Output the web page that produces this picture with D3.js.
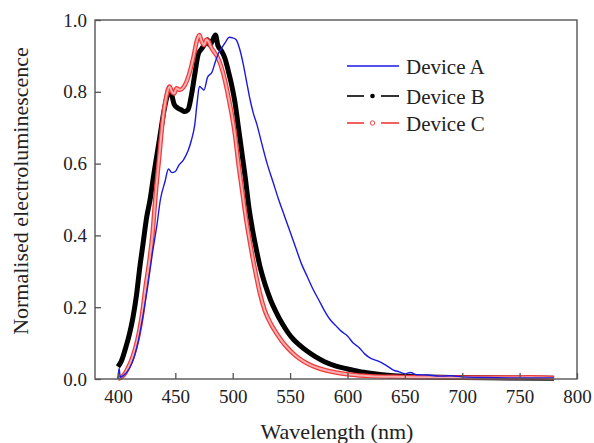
<!DOCTYPE html>
<html><head><meta charset="utf-8">
<script src="https://cdn.jsdelivr.net/npm/d3@7"></script>
<style>body{margin:0;background:#fff}svg{display:block}</style>
</head><body>
<svg id="c" width="594" height="443"></svg>
<script>
const xTicks = [400,450,500,550,600,650,700,750,800];
const yTicks = [0.0,0.2,0.4,0.6,0.8,1.0];
const seriesNames = ["Device A","Device B","Device C"];

const wlA = [400,401,402,405,410,414,418,422,426,430,434,437,441,444,447,450,453,457,461,464,467,469,471,473,475,478,482,485,488,491,494,497,500,503,506,509,512,515,518,521,525,530,535,540,545,550,555,560,565,570,575,580,585,590,595,600,605,610,615,620,625,630,635,640,645,650,655,660,670,680,690,700,720,750,780];
const elA = [0.0,0.03,0.005,0.01,0.03,0.06,0.11,0.18,0.26,0.35,0.43,0.50,0.55,0.585,0.575,0.578,0.595,0.61,0.635,0.665,0.71,0.77,0.815,0.81,0.805,0.84,0.855,0.885,0.91,0.925,0.94,0.952,0.95,0.945,0.92,0.88,0.83,0.78,0.74,0.71,0.66,0.60,0.55,0.50,0.455,0.41,0.365,0.32,0.285,0.25,0.22,0.19,0.165,0.148,0.132,0.12,0.10,0.088,0.07,0.058,0.052,0.045,0.035,0.025,0.02,0.015,0.018,0.012,0.011,0.008,0.009,0.006,0.004,0.003,0.003];

const wlB = [400,403,407,410,413,416,419,422,425,428,431,434,437,440,443,445,447,449,452,455,458,461,464,467,470,473,476,478,480,482,485,487,490,493,496,499,502,505,508,511,514,517,520,524,528,533,538,543,548,553,558,565,572,580,590,600,610,620,630,640,660,700,740,780];
const elB = [0.034,0.05,0.09,0.125,0.17,0.23,0.31,0.38,0.45,0.50,0.565,0.625,0.685,0.745,0.79,0.81,0.79,0.765,0.755,0.75,0.745,0.75,0.79,0.85,0.905,0.92,0.935,0.945,0.93,0.94,0.958,0.93,0.915,0.895,0.86,0.82,0.77,0.70,0.63,0.56,0.48,0.42,0.37,0.31,0.265,0.22,0.185,0.155,0.13,0.11,0.095,0.077,0.062,0.048,0.036,0.028,0.021,0.016,0.012,0.009,0.006,0.004,0.003,0.002];

const wlC = [400,403,406,409,412,415,418,421,424,427,430,433,436,439,442,445,447,449,451,454,457,460,463,466,469,471,473,475,477,479,481,484,487,490,493,496,499,502,505,508,511,514,517,520,524,528,533,538,543,548,553,558,565,572,580,590,600,610,620,640,660,700,740,760,770,780];
const elC = [0.0,0.005,0.015,0.033,0.055,0.085,0.125,0.18,0.255,0.32,0.40,0.52,0.62,0.72,0.785,0.815,0.80,0.795,0.81,0.805,0.812,0.83,0.86,0.9,0.945,0.958,0.94,0.93,0.945,0.94,0.925,0.91,0.895,0.87,0.835,0.79,0.74,0.68,0.60,0.53,0.46,0.40,0.345,0.295,0.235,0.19,0.155,0.128,0.105,0.086,0.07,0.057,0.043,0.033,0.025,0.018,0.013,0.01,0.008,0.006,0.005,0.004,0.004,0.005,0.004,0.003];

const svg = d3.select("#c");
const L=95, R=577, T=20, B=379;
const x = d3.scaleLinear().domain([380,800]).range([L,R]);
const y = d3.scaleLinear().domain([0,1]).range([B,T]);
const font = '"Liberation Serif", "Times New Roman", Times, "DejaVu Serif", serif';
const axisCol = "#555";

const line = d3.line().x(d=>x(d[0])).y(d=>y(d[1])).curve(d3.curveMonotoneX);
const zip = (a,b)=>a.map((v,i)=>[v,b[i]]);

const plot = svg.append("g");
plot.append("path").datum(zip(wlB,elB)).attr("d",line)
  .attr("fill","none").attr("stroke","#000").attr("stroke-width",5).attr("stroke-linejoin","round");
plot.append("path").datum(zip(wlC,elC)).attr("d",line)
  .attr("fill","none").attr("stroke","#f23a3a").attr("stroke-width",4.5).attr("stroke-linejoin","round");
plot.append("path").datum(zip(wlC,elC)).attr("d",line)
  .attr("fill","none").attr("stroke","#f6b0b0").attr("stroke-width",2).attr("stroke-linejoin","round");
plot.append("path").datum(zip(wlA,elA)).attr("d",line)
  .attr("fill","none").attr("stroke","#1a1ae0").attr("stroke-width",1.4).attr("stroke-linejoin","round");

svg.append("rect").attr("x",L).attr("y",T).attr("width",R-L).attr("height",B-T)
  .attr("fill","none").attr("stroke",axisCol).attr("stroke-width",1.4);

const xa = svg.append("g").attr("transform",`translate(0,${B})`)
  .call(d3.axisBottom(x).tickValues(xTicks).tickSize(-6).tickPadding(11).tickFormat(d3.format("d")));
xa.attr("font-family",font);
xa.select(".domain").remove();
xa.selectAll("line").attr("stroke",axisCol).attr("stroke-width",1.3);
xa.selectAll("text").attr("font-family",font).attr("font-size",19).attr("fill","#222");

const ya = svg.append("g").attr("transform",`translate(${L},0)`)
  .call(d3.axisLeft(y).tickValues(yTicks).tickSize(-6).tickPadding(8).tickFormat(d3.format(".1f")));
ya.attr("font-family",font);
ya.select(".domain").remove();
ya.selectAll("line").attr("stroke",axisCol).attr("stroke-width",1.3);
ya.selectAll("text").attr("font-family",font).attr("font-size",19).attr("fill","#222");

svg.append("text").attr("x",337).attr("y",439).attr("text-anchor","middle")
  .attr("font-family",font).attr("font-size",22).attr("fill","#222").text("Wavelength (nm)");
svg.append("text").attr("transform",`translate(28,191) rotate(-90)`).attr("text-anchor","middle")
  .attr("font-family",font).attr("font-size",22).attr("fill","#222").text("Normalised electroluminescence");

const lg = svg.append("g");
const rows = [
  {name:seriesNames[0], col:"#1a1ae0", y:66, marker:null},
  {name:seriesNames[1], col:"#000", y:96, marker:"filled"},
  {name:seriesNames[2], col:"#f23a3a", y:123, marker:"hollow"}
];
rows.forEach(r=>{
  if(!r.marker){
    lg.append("line").attr("x1",347).attr("x2",399).attr("y1",r.y).attr("y2",r.y)
      .attr("stroke",r.col).attr("stroke-width",1.6);
  } else {
    lg.append("line").attr("x1",347).attr("x2",364).attr("y1",r.y).attr("y2",r.y).attr("stroke",r.col).attr("stroke-width",1.6);
    lg.append("line").attr("x1",381).attr("x2",399).attr("y1",r.y).attr("y2",r.y).attr("stroke",r.col).attr("stroke-width",1.6);
    lg.append("circle").attr("cx",372.5).attr("cy",r.y).attr("r",r.marker==="filled"?2.3:2.2)
      .attr("fill",r.marker==="filled"?r.col:"#fff").attr("stroke",r.col).attr("stroke-width",r.marker==="filled"?0:0.9);
  }
  lg.append("text").attr("x",406).attr("y",r.y+8).attr("font-family",font).attr("font-size",21)
    .attr("fill","#222").text(r.name);
});
</script>
</body></html>
